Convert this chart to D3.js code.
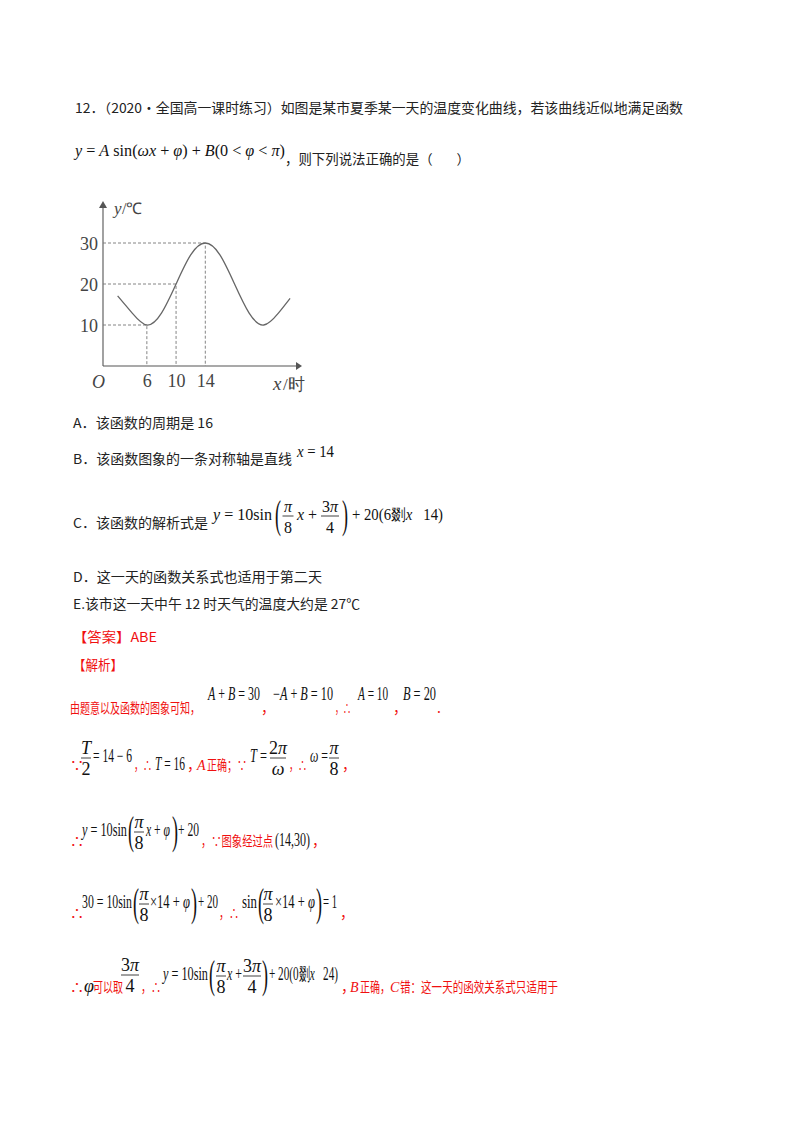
<!DOCTYPE html>
<html><head><meta charset="utf-8">
<script src="https://cdn.jsdelivr.net/npm/d3@7"></script>
<style>body{margin:0;background:#fff}svg{display:block}text{white-space:pre}</style>
</head><body>
<svg width="800" height="1132"></svg>
<script>
// values (hour, temperature)
var hours = [2, 4, 6, 8, 10, 12, 14, 16, 18, 20, 22, 24, 25.6],
    temps = [17.1, 12.9, 10, 12.9, 20, 27.1, 30, 27.1, 20, 12.9, 10, 12.9, 16.5];
var yTicks = [10, 20, 30],
    xTicks = [6, 10, 14];
// guide points (x, y)
var guides = [[6, 10], [10, 20], [14, 30]];

var svg = d3.select("svg");
var CJK = "'Noto Sans CJK SC', sans-serif", SERIF = "'Liberation Serif', serif", RED = "#f01010";
var MS = 16; // current math size

var x = d3.scaleLinear().domain([0, 26]).range([103, 293]),
    y = d3.scaleLinear().domain([0, 30]).range([366, 243]);

function fit(el, w) {
  if (w) el.attr("textLength", w).attr("lengthAdjust", "spacingAndGlyphs");
  return el;
}
// plain text
function t(px, py, s, o) {
  o = o || {};
  var el = svg.append("text").attr("x", px).attr("y", py)
    .attr("font-family", o.f || CJK).attr("font-size", o.s || 13.5)
    .attr("fill", o.c || "#222").attr("font-style", o.i ? "italic" : null)
    .attr("text-anchor", o.a || null).text(s);
  return fit(el, o.w);
}
// math text: letters italic, "sin" upright
function m(px, py, s, o) {
  o = o || {};
  var el = svg.append("text").attr("x", px).attr("y", py)
    .attr("font-family", SERIF).attr("font-size", o.s || MS).attr("fill", "#111")
    .attr("text-anchor", o.a || null);
  var re = /(sin)|([A-Za-zωφπ])|([^A-Za-zωφπ]+)/g, r;
  while ((r = re.exec(s))) {
    var sp = el.append("tspan").text(r[0]);
    if (r[2]) sp.attr("font-style", "italic");
  }
  return fit(el, o.w);
}
function frac(cx, by, num, den, w) {
  m(cx, by - 8, num, {a: "middle"});
  m(cx, by + 13, den, {a: "middle"});
  svg.append("line").attr("x1", cx - w / 2).attr("x2", cx + w / 2)
    .attr("y1", by - 4).attr("y2", by - 4).attr("stroke", "#111").attr("stroke-width", 0.8);
}
function paren(px, by, s) {
  svg.append("text").attr("x", px).attr("y", by + 8).attr("font-family", SERIF)
    .attr("font-size", 40).attr("fill", "#111")
    .attr("transform", "translate(" + px + "," + (by + 8) + ") scale(0.45,1) translate(" + (-px) + "," + (-(by + 8)) + ")")
    .text(s);
}
function r(px, py, s, w) { return t(px, py, s, {c: RED, s: 14, w: w}); }

// question text
t(75, 113, "12．（2020·全国高一课时练习）如图是某市夏季某一天的温度变化曲线，若该曲线近似地满足函数", {w: 608});
m(75, 156, "y = A sin(ωx + φ) + B(0 < φ < π)", {w: 210});
t(285, 164, "，则下列说法正确的是（        ）", {w: 185});

// chart
var g = svg.append("g");
var ax = g.append("g").attr("stroke", "#555").attr("stroke-width", 1.1);
ax.append("line").attr("x1", x(0)).attr("x2", 296).attr("y1", y(0)).attr("y2", y(0));
ax.append("line").attr("x1", x(0)).attr("x2", x(0)).attr("y1", y(0)).attr("y2", 206);
g.append("path").attr("d", "M296,362L302,366L296,370Z").attr("fill", "#555");
g.append("path").attr("d", "M99,208L103,201L107,208Z").attr("fill", "#555");

guides.forEach(function(p) {
  g.append("path").attr("fill", "none").attr("stroke", "#777").attr("stroke-width", 0.9)
    .attr("stroke-dasharray", "3,2")
    .attr("d", "M" + x(0) + "," + y(p[1]) + "H" + x(p[0]) + "V" + y(0));
});

g.append("path").datum(d3.zip(hours, temps))
  .attr("fill", "none").attr("stroke", "#666").attr("stroke-width", 1.3)
  .attr("d", d3.line().x(function(d) { return x(d[0]); }).y(function(d) { return y(d[1]); }).curve(d3.curveNatural));

var ya = g.append("g").attr("transform", "translate(" + (x(0) - 2) + ",0)")
  .call(d3.axisLeft(y).tickValues(yTicks).tickSize(0));
ya.select(".domain").remove();
ya.selectAll("text").attr("font-family", SERIF).attr("font-size", 18).attr("fill", "#444").attr("dy", "0.35em");
var xa = g.append("g").attr("transform", "translate(0," + (y(0) + 5) + ")")
  .call(d3.axisBottom(x).tickValues(xTicks).tickSize(0));
xa.select(".domain").remove();
xa.selectAll("text").attr("font-family", SERIF).attr("font-size", 18).attr("fill", "#444");
t(92, 388, "O", {f: SERIF, s: 18, i: true, c: "#444"});
t(114, 214, "y", {f: SERIF, s: 17, i: true, c: "#444"});
t(122, 214, "/℃", {f: SERIF, s: 16, c: "#444"});
t(273, 390, "x", {f: SERIF, s: 19, i: true, c: "#444"});
t(283, 390, "/时", {f: SERIF, s: 17, c: "#444"});

// options
t(73, 428, "A．该函数的周期是 16", {w: 140});
t(73, 464, "B．该函数图象的一条对称轴是直线", {w: 219});
m(297, 457, "x = 14", {w: 37});
t(73, 528, "C．该函数的解析式是", {w: 135});
m(213, 520, "y = 10sin", {w: 59});
paren(275, 520, "(");
frac(288, 520, "π", "8", 11);
m(297, 520, "x +", {w: 20});
frac(330, 520, "3π", "4", 18);
paren(342, 520, ")");
m(352, 520, "+ 20(6剟x   14)", {w: 91});
t(73, 582, "D．这一天的函数关系式也适用于第二天", {w: 249});
t(73, 609, "E.该市这一天中午 12 时天气的温度大约是 27℃", {w: 287});
t(73, 642, "【答案】ABE", {c: RED, w: 84});
t(73, 670, "【解析】", {c: RED, w: 50});

// solution
MS = 18;
r(70, 713, "由题意以及函数的图象可知，", 130);
m(208, 700, "A + B = 30", {w: 52});
r(261, 713, "，");
m(273, 700, "−A + B = 10", {w: 60});
r(335, 713, "，∴", 16);
m(358, 700, "A = 10", {w: 30});
r(393, 713, "，");
m(403, 700, "B = 20", {w: 33});
r(437, 713, ".");

r(70, 770, "∵");
frac(86, 762, "T", "2", 10);
m(93, 762, "= 14 − 6", {w: 39});
r(134, 770, "，∴", 18);
m(155, 770, "T = 16", {w: 30});
r(187, 770, "，");
t(197, 770, "A", {c: RED, f: SERIF, i: true, s: 14});
r(207, 770, "正确；∵", 40);
m(250, 762, "T =", {w: 17});
frac(278, 762, "2π", "ω", 16);
r(289, 770, "，∴", 18);
m(310, 762, "ω =", {w: 18});
frac(334, 762, "π", "8", 10);
r(342, 770, "，");

r(70, 846, "∴");
m(82, 836, "y = 10sin", {w: 45});
paren(128, 836, "(");
frac(139, 836, "π", "8", 10);
m(146, 836, "x + φ", {w: 24});
paren(172, 836, ")");
m(178, 836, "+ 20", {w: 21});
r(201, 846, "，∵图象经过点", 72);
m(275, 846, "(14,30)", {w: 35});
r(312, 846, "，");

r(70, 918, "∴");
m(82, 908, "30 = 10sin", {w: 50});
paren(133, 908, "(");
frac(144, 908, "π", "8", 10);
m(150, 908, "×14 + φ", {w: 40});
paren(191, 908, ")");
m(198, 908, "+ 20", {w: 20});
r(219, 918, "，∴", 20);
m(242, 908, "sin", {w: 15});
paren(258, 908, "(");
frac(268, 908, "π", "8", 10);
m(275, 908, "×14 + φ", {w: 40});
paren(316, 908, ")");
m(323, 908, "= 1", {w: 14});
r(340, 918, "，");

r(70, 992, "∴");
m(84, 992, "φ");
r(93, 992, "可以取", 30);
frac(130, 979, "3π", "4", 18);
r(141, 992, "，∴", 20);
m(163, 980, "y = 10sin", {w: 45});
paren(209, 980, "(");
frac(221, 980, "π", "8", 10);
m(227, 980, "x +", {w: 15});
frac(252, 980, "3π", "4", 18);
paren(262, 980, ")");
m(269, 980, "+ 20(0剟x   24)", {w: 69});
r(341, 992, "，");
t(350, 992, "B", {c: RED, f: SERIF, i: true, s: 14});
r(360, 992, "正确，", 30);
t(390, 992, "C", {c: RED, f: SERIF, i: true, s: 14});
r(400, 992, "错：这一天的函效关系式只适用于", 158);
</script>
</body></html>
